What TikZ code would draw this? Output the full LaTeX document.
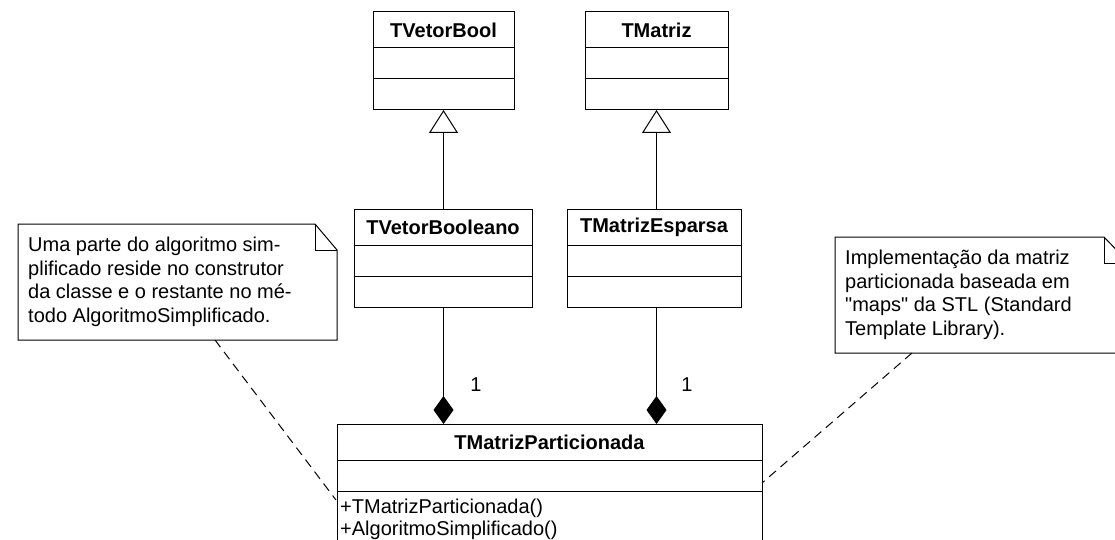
\documentclass[tikz,border=0pt]{standalone}
\usepackage{fontspec}
\setmainfont{Liberation Sans}
% same face without the TeX input mapping, for straight double quotes
\newfontfamily\straightquotes{Liberation Sans}
\newcommand{\sq}{{\straightquotes"}}
\usetikzlibrary{arrows.meta,calc}

\tikzset{
  umlbox/.style={draw, line width=1pt, anchor=north west, inner sep=0pt, outer sep=0pt},
  umltitle/.style={font=\fontsize{20}{23}\selectfont\bfseries, inner sep=0pt},
  umltext/.style={font=\fontsize{20}{23}\selectfont, inner sep=0pt},
  notebox/.style={anchor=north west, inner sep=0pt, outer sep=0pt},
  notetext/.style={font=\fontsize{20}{23.5}\selectfont, align=left, anchor=north west, inner sep=0pt},
  inherit/.style={line width=1pt, -{Triangle[open, length=23pt, width=29pt, line width=1pt]}},
  compose/.style={line width=1pt, -{Diamond[length=28pt, width=20pt, fill=black, line width=1pt]}},
  anchorline/.style={line width=1pt, dash pattern=on 9pt off 6pt},
  mult/.style={font=\fontsize{20}{23}\selectfont, inner sep=0pt}
}

% A class box with title, attribute and operation compartments
\newcommand{\umlclassbox}[6]{%
  \node[umlbox, minimum width=#4, minimum height=#5] (#1) at (#2,#3) {};
  \draw[line width=1pt] ($(#1.north west)+(0,36)$) -- ($(#1.north east)+(0,36)$);
  \draw[line width=1pt] ($(#1.north west)+(0,67)$) -- ($(#1.north east)+(0,67)$);
  \node[umltitle] (#1-title) at ($(#1.north)+(0,18)$) {#6};
}

\begin{document}
\begin{tikzpicture}[x=1pt, y=-1pt]
  \clip (0,0) rectangle (1115,540);
  \fill[white] (0,0) rectangle (1115,540);

  % superclasses
  \umlclassbox{vbool}{373}{12}{141pt}{98pt}{TVetorBool}
  \umlclassbox{mat}{585}{12}{143pt}{98pt}{TMatriz}

  % derived classes
  \umlclassbox{vboolean}{354}{209}{178pt}{98pt}{TVetorBooleano}
  \umlclassbox{esparsa}{567}{209}{174pt}{98pt}{TMatrizEsparsa}

  % partitioned matrix (extends past the lower edge)
  \umlclassbox{part}{337}{424}{425pt}{140pt}{TMatrizParticionada}
  \node[umltext, anchor=base west] (op1) at ($(part.north west)+(3,89)$) {+TMatrizParticionada()};
  \node[umltext, anchor=base west] (op2) at ($(part.north west)+(3,111)$) {+AlgoritmoSimplificado()};

  % generalization
  \draw[inherit] (vboolean.north -| vbool.south) -- (vbool.south);
  \draw[inherit] (esparsa.north -| mat.south) -- (mat.south);

  % composition
  \coordinate (c1) at (vboolean.south -| vbool.south);
  \coordinate (c2) at (esparsa.south -| mat.south);
  \draw[compose] (c1) -- (c1 |- part.north);
  \draw[compose] (c2) -- (c2 |- part.north);
  \node[mult] (m1) at (476,385) {1};
  \node[mult] (m2) at (687,385) {1};

  % left note
  \node[notebox, minimum width=319pt, minimum height=116pt] (noteL) at (18,224) {};
  \draw[line width=1pt, fill=white]
    (noteL.north west) -- ($(noteL.north east)+(-22,0)$) -- ($(noteL.north east)+(0,26)$)
    -- (noteL.south east) -- (noteL.south west) -- cycle;
  \draw[line width=1pt]
    ($(noteL.north east)+(-22,0)$) -- ($(noteL.north east)+(-22,26)$) -- ($(noteL.north east)+(0,26)$);
  \node[notetext] (noteLtext) at ($(noteL.north west)+(10,13)$)
    {Uma parte do algoritmo sim-\\plificado reside no construtor\\da classe e o restante no mé-\\todo AlgoritmoSimplificado.};

  % right note
  \node[notebox, minimum width=294pt, minimum height=116pt] (noteR) at (835,237) {};
  \draw[line width=1pt, fill=white]
    (noteR.north west) -- ($(noteR.north east)+(-25,0)$) -- ($(noteR.north east)+(0,26)$)
    -- (noteR.south east) -- (noteR.south west) -- cycle;
  \draw[line width=1pt]
    ($(noteR.north east)+(-25,0)$) -- ($(noteR.north east)+(-25,26)$) -- ($(noteR.north east)+(0,26)$);
  \node[notetext] (noteRtext) at ($(noteR.north west)+(10,13)$)
    {Implementação da matriz\\particionada baseada em\\\sq maps\sq{} da STL (Standard\\Template Library).};

  % note anchors
  \coordinate (aL) at ($(noteL.south west)+(197,0)$);
  \coordinate (bL) at ($(part.north west)+(-1,76)$);
  \draw[anchorline] (aL) -- (bL);
  \coordinate (aR) at ($(noteR.south west)+(77,0)$);
  \coordinate (bR) at ($(part.north east)+(0,59)$);
  \draw[anchorline] (aR) -- (bR);
\end{tikzpicture}
\end{document}
